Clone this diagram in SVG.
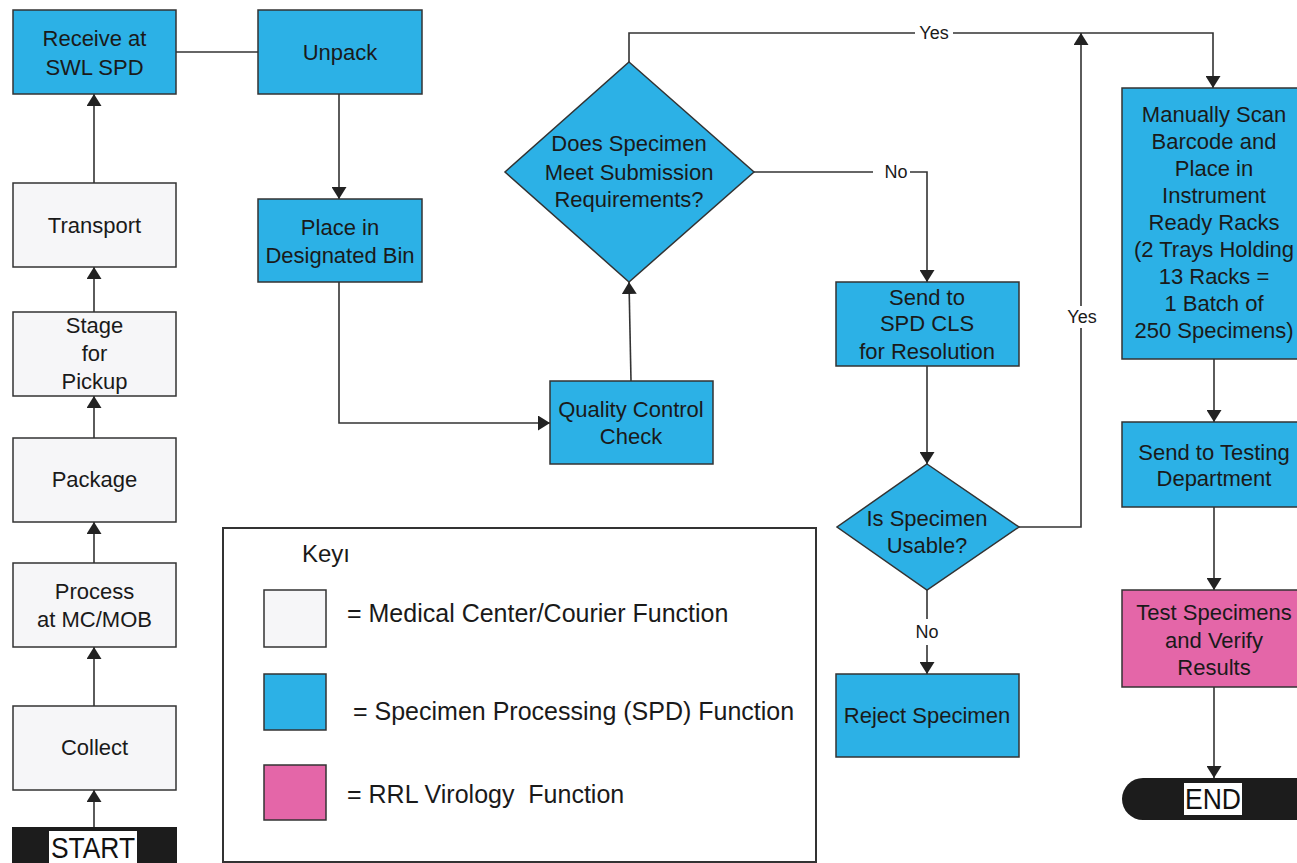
<svg xmlns="http://www.w3.org/2000/svg" width="1297" height="863" viewBox="0 0 1297 863">
<style>
.t{font-family:"Liberation Sans",Arial,sans-serif;font-size:22px;fill:#1a1a1a;text-anchor:middle}
.lbl{font-family:"Liberation Sans",Arial,sans-serif;font-size:18px;fill:#1a1a1a;text-anchor:middle}
.key{font-family:"Liberation Sans",Arial,sans-serif;font-size:25px;fill:#1a1a1a;white-space:pre}
.w{fill:#f6f6f8;stroke:#333;stroke-width:1.5}
.b{fill:#2cb1e6;stroke:#333;stroke-width:1.5}
.p{fill:#e466a8;stroke:#333;stroke-width:1.5}
.c{fill:none;stroke:#333;stroke-width:1.6}
.a{marker-end:url(#arr)}
</style>
<defs>
<marker id="arr" viewBox="0 0 12 15" refX="12" refY="7.5" markerWidth="12" markerHeight="15" markerUnits="userSpaceOnUse" orient="auto">
<path d="M0,0 L12,7.5 L0,15 Z" fill="#222"/>
</marker>
</defs>
<rect width="1297" height="863" fill="#fff"/>

<g id="connectors">
<path class="c" d="M176,52 H258"/>
<path class="c a" d="M339,94 V199"/>
<path class="c a" d="M94,183 V94"/>
<path class="c a" d="M94,312 V267"/>
<path class="c a" d="M94,438 V396"/>
<path class="c a" d="M94,563 V522"/>
<path class="c a" d="M94,706 V647"/>
<path class="c a" d="M94,827 V790"/>
<path class="c a" d="M339,282 V423 H550"/>
<path class="c a" d="M631,381 L629,282"/>
<path class="c" d="M629,62 V33 H915"/>
<path class="c a" d="M953,33 H1213 V88"/>
<path class="c" d="M754,172 H873"/>
<path class="c a" d="M910,172 H927 V282"/>
<path class="c a" d="M927,366 V464"/>
<path class="c" d="M1019,527 H1081 V328"/>
<path class="c a" d="M1081,306 V33"/>
<path class="c" d="M927,590 V619"/>
<path class="c a" d="M927,645 V674"/>
<path class="c a" d="M1214,359 V422"/>
<path class="c a" d="M1214,507 V590"/>
<path class="c a" d="M1214,687 V778"/>
<text class="lbl" x="934" y="39">Yes</text>
<text class="lbl" x="896" y="178">No</text>
<text class="lbl" x="1082" y="323">Yes</text>
<text class="lbl" x="927" y="638">No</text>
</g>

<g id="receive"><rect class="b" x="13" y="10" width="163" height="84"/><text class="t" x="94.5" y="46">Receive at</text><text class="t" x="94.5" y="75">SWL SPD</text></g>
<g id="unpack"><rect class="b" x="258" y="10" width="164" height="84"/><text class="t" x="340" y="60">Unpack</text></g>
<g id="place"><rect class="b" x="258" y="199" width="164" height="83"/><text class="t" x="340" y="235">Place in</text><text class="t" x="340" y="263">Designated Bin</text></g>
<g id="transport"><rect class="w" x="13" y="183" width="163" height="84"/><text class="t" x="94.5" y="233">Transport</text></g>
<g id="stage"><rect class="w" x="13" y="312" width="163" height="84"/><text class="t" x="94.5" y="333">Stage</text><text class="t" x="94.5" y="361">for</text><text class="t" x="94.5" y="389">Pickup</text></g>
<g id="package"><rect class="w" x="13" y="438" width="163" height="84"/><text class="t" x="94.5" y="487">Package</text></g>
<g id="process"><rect class="w" x="13" y="563" width="163" height="84"/><text class="t" x="94.5" y="599">Process</text><text class="t" x="94.5" y="627">at MC/MOB</text></g>
<g id="collect"><rect class="w" x="13" y="706" width="163" height="84"/><text class="t" x="94.5" y="755">Collect</text></g>
<g id="start"><rect x="12" y="827" width="165" height="50" fill="#1c1c1c"/><rect x="49" y="831" width="88" height="40" fill="#fff"/><text class="t" x="93" y="858" textLength="84" lengthAdjust="spacingAndGlyphs" style="font-size:30px;fill:#111">START</text></g>

<g id="meet"><polygon class="b" points="629,62 754,172 629,282 505,172"/><text class="t" x="629" y="151">Does Specimen</text><text class="t" x="629" y="180">Meet Submission</text><text class="t" x="629" y="207">Requirements?</text></g>
<g id="qc"><rect class="b" x="550" y="381" width="163" height="83"/><text class="t" x="631" y="417">Quality Control</text><text class="t" x="631" y="444">Check</text></g>
<g id="sendcls"><rect class="b" x="836" y="282" width="183" height="84"/><text class="t" x="927" y="305">Send to</text><text class="t" x="927" y="331">SPD CLS</text><text class="t" x="927" y="359">for Resolution</text></g>
<g id="usable"><polygon class="b" points="927,464 1019,527 927,590 837,527"/><text class="t" x="927" y="526">Is Specimen</text><text class="t" x="927" y="553">Usable?</text></g>
<g id="reject"><rect class="b" x="836" y="674" width="183" height="83"/><text class="t" x="927" y="723">Reject Specimen</text></g>

<g id="scan"><rect class="b" x="1122" y="88" width="183" height="271"/>
<text class="t" x="1214" y="122">Manually Scan</text>
<text class="t" x="1214" y="149">Barcode and</text>
<text class="t" x="1214" y="176">Place in</text>
<text class="t" x="1214" y="203">Instrument</text>
<text class="t" x="1214" y="230">Ready Racks</text>
<text class="t" x="1214" y="257">(2 Trays Holding</text>
<text class="t" x="1214" y="284">13 Racks =</text>
<text class="t" x="1214" y="311">1 Batch of</text>
<text class="t" x="1214" y="338">250 Specimens)</text>
</g>
<g id="sendtest"><rect class="b" x="1122" y="422" width="183" height="85"/><text class="t" x="1214" y="460">Send to Testing</text><text class="t" x="1214" y="486">Department</text></g>
<g id="test"><rect class="p" x="1122" y="590" width="183" height="97"/><text class="t" x="1214" y="620">Test Specimens</text><text class="t" x="1214" y="648">and Verify</text><text class="t" x="1214" y="675">Results</text></g>
<g id="end"><rect x="1122" y="778" width="200" height="42" rx="21" fill="#1c1c1c"/><rect x="1184" y="783" width="58" height="32" fill="#fff"/><text class="t" x="1213" y="809" textLength="56" lengthAdjust="spacingAndGlyphs" style="font-size:29px;fill:#111">END</text></g>

<g id="legend">
<rect x="223" y="528" width="593" height="334" fill="#fff" stroke="#333" stroke-width="2"/>
<text class="key" x="302" y="562" style="font-size:24px">Keyı</text>
<rect class="w" x="264" y="590" width="62" height="57"/>
<rect class="b" x="264" y="674" width="62" height="56"/>
<rect class="p" x="264" y="765" width="62" height="55"/>
<text class="key" x="347" y="622">= Medical Center/Courier Function</text>
<text class="key" x="353" y="720">= Specimen Processing (SPD) Function</text>
<text class="key" x="347" y="803">= RRL Virology  Function</text>
</g>
</svg>
